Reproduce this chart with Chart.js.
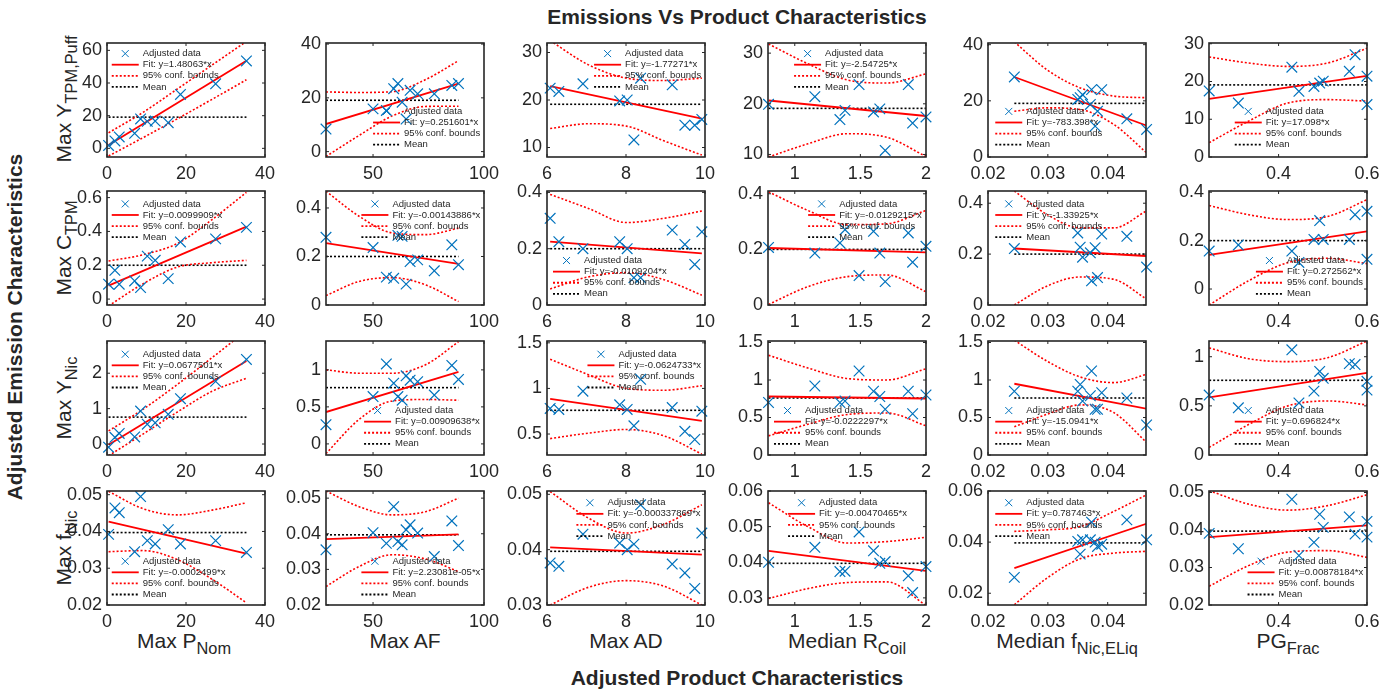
<!DOCTYPE html>
<html>
<head>
<meta charset="utf-8">
<title>Emissions Vs Product Characteristics</title>
<script src="https://cdn.jsdelivr.net/npm/chart.js@4.4.0/dist/chart.umd.min.js"></script>
<style>
    body {
        margin: 0;
        width: 1391px;
        height: 693px;
        position: relative;
        overflow: hidden;
        background: #fff;
        font-family: "Liberation Sans", Arial, sans-serif;
        color: #262626;
    }
    canvas { position: absolute; }
    .t {
        position: absolute;
        white-space: nowrap;
        transform: translate(-50%, -50%);
    }
    .rot { transform: translate(-50%, -50%) rotate(-90deg); }
    .bold { font-weight: bold; font-size: 21px; color: #262626; }
    .axl { font-size: 21px; }
    .axl span { font-size: 0.78em; position: relative; top: 0.38em; }
</style>
</head>
<body>
<div class="t bold" style="left:737px; top:17px">Emissions Vs Product Characteristics</div>
<div class="t bold" style="left:737px; top:678px">Adjusted Product Characteristics</div>
<div class="t bold rot" style="left:15px; top:327px">Adjusted Emission Characteristics</div>

<div class="t axl rot" style="left:64px; top:99px">Max Y<span>TPM,Puff</span></div>
<div class="t axl rot" style="left:64px; top:248px">Max C<span>TPM</span></div>
<div class="t axl rot" style="left:64px; top:398px">Max Y<span>Nic</span></div>
<div class="t axl rot" style="left:64px; top:548px">Max f<span>Nic</span></div>

<div class="t axl" style="left:184px; top:641px">Max P<span>Nom</span></div>
<div class="t axl" style="left:405px; top:641px">Max AF</div>
<div class="t axl" style="left:626px; top:641px">Max AD</div>
<div class="t axl" style="left:847px; top:641px">Median R<span>Coil</span></div>
<div class="t axl" style="left:1067px; top:641px">Median f<span>Nic,ELiq</span></div>
<div class="t axl" style="left:1288px; top:641px">PG<span>Frac</span></div>

<script>
const BLUE = '#0072BD';
const RED = '#FF0000';
const INK = '#262626';

// adjusted product characteristics (x of every panel in a column)
const xPNom = [0.4, 2.0, 3.1, 7.0, 8.5, 10.2, 12.2, 15.5, 18.6, 27.5, 35.3];
const xAF = [28.8, 50, 56, 59.3, 61.2, 63.1, 64.9, 66.7, 70.1, 77.6, 85.5, 88.5];
const xAD = [6.08, 6.3, 6.91, 7.84, 8.03, 8.2, 8.37, 9.17, 9.49, 9.74, 9.92];
const xRCoil = [0.8, 1.153, 1.344, 1.383, 1.49, 1.6, 1.648, 1.689, 1.865, 1.898, 2.0];
const xFNicELiq = [0.0244, 0.035, 0.0354, 0.0358, 0.0371, 0.0373, 0.0379, 0.0383, 0.039, 0.0432, 0.0465];
const xPGFrac = [0.243, 0.309, 0.43, 0.446, 0.48, 0.493, 0.501, 0.56, 0.573, 0.6, 0.6];

// x positions where the confidence bounds are sampled
const bxPNom = [0.4, 9.1, 17.9, 26.6, 35.3];
const bxAF = [28.8, 43.7, 58.7, 73.7, 88.5];
const bxAD = [6.08, 7.05, 8.01, 8.96, 9.92];
const bxRCoil = [0.8, 1.1, 1.4, 1.7, 2.0];
const bxFNicELiq = [0.0244, 0.0299, 0.0354, 0.041, 0.0465];
const bxPGFrac = [0.243, 0.332, 0.421, 0.511, 0.6];

// adjusted emission characteristics, one list per column
const adjTpmPuff = [
    [1.8, 4.5, 7, 9.2, 18, 16.5, 16.7, 15.7, 33, 39.5, 53.5],
    [8.4, 15.9, 15.3, 23.4, 25.3, 18.4, 12.1, 22.8, 21.5, 21.5, 24.6, 25.3],
    [22.5, 21.8, 23.4, 19.8, 20, 11.6, 24.6, 23.2, 14.7, 14.7, 15.9],
    [19.9, 21.4, 16.9, 18.7, 23.8, 18.4, 19, 10.8, 23.8, 16.2, 17.4],
    [28.5, 20.5, 21.1, 22.2, 18.7, 24, 11, 16.3, 24, 13.6, 9.8],
    [17.5, 14.3, 23.8, 17.4, 18.7, 19.6, 20.1, 22.7, 27.1, 21.4, 13.9]
];
const adjCTpm = [
    [0.088, 0.17, 0.088, 0.107, 0.068, 0.254, 0.229, 0.121, 0.338, 0.356, 0.424],
    [0.279, 0.237, 0.115, 0.11, 0.287, 0.283, 0.086, 0.179, 0.186, 0.141, 0.248, 0.166],
    [0.308, 0.225, 0.2, 0.225, 0.2, 0.097, 0.097, 0.266, 0.215, 0.144, 0.26],
    [0.207, 0.187, 0.223, 0.271, 0.106, 0.265, 0.187, 0.084, 0.259, 0.154, 0.211],
    [0.222, 0.283, 0.227, 0.188, 0.205, 0.095, 0.225, 0.108, 0.279, 0.27, 0.149],
    [0.157, 0.182, 0.157, 0.11, 0.205, 0.283, 0.205, 0.205, 0.307, 0.321, 0.123]
];
const adjYNic = [
    [-0.09, 0.19, 0.3, 0.2, 0.93, 0.56, 0.6, 0.84, 1.28, 1.77, 2.39],
    [0.26, 0.64, 1.08, 0.82, 0.64, 0.59, 0.92, 0.86, 0.84, 0.66, 1.06, 0.87],
    [0.78, 0.77, 0.97, 0.82, 0.77, 0.59, 1.1, 0.79, 0.53, 0.44, 0.75],
    [0.7, 0.92, 0.7, 0.72, 1.12, 0.85, 0.78, 0.61, 0.85, 0.55, 0.8],
    [0.85, 0.85, 0.94, 0.72, 0.79, 1.12, 0.61, 0.61, 0.83, 0.76, 0.4],
    [0.61, 0.48, 1.07, 0.53, 0.65, 0.85, 0.78, 0.93, 0.92, 0.75, 0.66]
];
const adjFNic = [
    [0.0392, 0.0464, 0.0451, 0.0345, 0.0495, 0.0375, 0.0366, 0.0405, 0.0366, 0.0375, 0.0343],
    [0.0355, 0.0403, 0.0373, 0.0476, 0.0378, 0.0369, 0.0411, 0.0425, 0.0402, 0.0336, 0.0436, 0.0367],
    [0.0376, 0.037, 0.0428, 0.0412, 0.04, 0.041, 0.0481, 0.0374, 0.0358, 0.033, 0.043],
    [0.04, 0.0442, 0.0374, 0.0375, 0.0485, 0.0432, 0.0397, 0.0402, 0.0362, 0.0315, 0.0388],
    [0.0262, 0.0403, 0.0353, 0.0409, 0.0409, 0.0478, 0.04, 0.0383, 0.0392, 0.0487, 0.0409],
    [0.0391, 0.035, 0.0482, 0.0332, 0.0367, 0.0442, 0.0407, 0.0435, 0.0389, 0.0423, 0.0381]
];

// fitted slopes and the fit value at the smallest x
const slopeTpmPuff = [1.48063, 0.251601, -1.77271, -2.54725, -783.398, 17.098];
const slopeCTpm = [0.0099909, -0.00143886, -0.0109204, -0.0129215, -1.33925, 0.272562];
const slopeYNic = [0.0677501, 0.00909638, -0.0624733, -0.0222297, -15.0941, 0.696824];
const slopeFNic = [-0.0002499, 2.23081e-05, -0.000337869, -0.00470465, 0.787463, 0.00878184];

const fitStartTpmPuff = [2.0, 10.25, 22.9, 20.65, 28.5, 15.4];
const fitStartCTpm = [0.08, 0.255, 0.225, 0.205, 0.222, 0.141];
const fitStartYNic = [-0.02, 0.43, 0.885, 0.78, 0.95, 0.587];
const fitStartFNic = [0.0427, 0.0385, 0.0404, 0.0432, 0.0298, 0.0381];

const meanY = [19.1, 0.2, 0.76, 0.0397];

// 95% confidence bounds at the bx* positions
const upTpmPuff = [
    [9.5, 22, 36.5, 51, 65.5], [22.2, 22.0, 22.3, 26.8, 33.8], [32.5, 27.4, 24.6, 24.1, 24.6],
    [31.8, 27.9, 24.7, 24.1, 25.9], [41, 31, 24.6, 21.7, 21.1], [26.5, 24.9, 24, 24.9, 28.8]
];
const loTpmPuff = [
    [-4.7, 6.5, 18.2, 30, 42], [-1.8, 6, 13.3, 16.8, 16.9], [14, 15, 14.5, 11.4, 8.4],
    [9.5, 12.1, 14.1, 13.4, 9.6], [16.3, 17.5, 16.9, 11.6, 1.5], [3.8, 9.5, 14.3, 15.2, 14.8]
];
const upCTpm = [
    [0.225, 0.262, 0.33, 0.47, 0.631], [0.469, 0.366, 0.297, 0.29, 0.317], [0.393, 0.343, 0.293, 0.308, 0.334],
    [0.407, 0.34, 0.289, 0.292, 0.34], [0.448, 0.355, 0.303, 0.303, 0.37], [0.345, 0.307, 0.287, 0.3, 0.369]
];
const loCTpm = [
    [-0.04, 0.09, 0.19, 0.215, 0.229], [0.039, 0.097, 0.113, 0.083, 0.014], [0.057, 0.1, 0.115, 0.09, 0.035],
    [0.002, 0.066, 0.102, 0.108, 0.048], [0.0, 0.075, 0.11, 0.101, 0.023], [-0.066, 0.034, 0.109, 0.127, 0.105]
];
const upYNic = [
    [0.37, 0.98, 1.69, 2.44, 3.2], [1.0, 0.955, 0.955, 1.07, 1.38], [1.32, 1.15, 1.0, 0.98, 1.03],
    [1.33, 1.16, 1.02, 1.0, 1.15], [1.53, 1.25, 1.04, 0.965, 1.075], [1.09, 0.98, 0.95, 0.99, 1.16]
];
const loYNic = [
    [-0.33, 0.28, 0.91, 1.49, 1.86], [-0.13, 0.33, 0.58, 0.6, 0.59], [0.45, 0.51, 0.55, 0.48, 0.28],
    [0.255, 0.41, 0.54, 0.56, 0.39], [0.376, 0.544, 0.668, 0.566, 0.168], [0.077, 0.31, 0.5, 0.55, 0.51]
];
const upFNic = [
    [0.0509, 0.0462, 0.0445, 0.0458, 0.0478], [0.052, 0.0476, 0.0453, 0.0462, 0.05], [0.0505, 0.0457, 0.043, 0.0446, 0.0481],
    [0.0567, 0.05, 0.0454, 0.0458, 0.047], [0.0442, 0.0448, 0.0461, 0.052, 0.0585], [0.0505, 0.0469, 0.0453, 0.0465, 0.0494]
];
const loFNic = [
    [0.0345, 0.0348, 0.0323, 0.027, 0.0206], [0.0252, 0.0308, 0.0341, 0.0329, 0.0294], [0.03, 0.0332, 0.0344, 0.0334, 0.03],
    [0.0298, 0.0326, 0.0343, 0.0345, 0.0279], [0.0155, 0.026, 0.0335, 0.0357, 0.0364], [0.025, 0.0305, 0.0341, 0.0345, 0.0327]
];

// axis limits and ticks
const xLimits = [[0, 40], [28.8, 100], [6, 10], [0.796, 2], [0.02, 0.0464], [0.2426, 0.6]];
const xTicks = [[0, 20, 40], [50, 100], [6, 8, 10], [1, 1.5, 2], [0.02, 0.03, 0.04], [0.4, 0.6]];

const yLimits = [
    [[-5.3, 64.5], [-2, 40.4], [8, 32], [9.5, 32], [0, 40.6], [0, 30.2]],
    [[-0.035, 0.639], [0, 0.47], [0, 0.405], [0, 0.41], [0, 0.448], [-0.066, 0.405]],
    [[-0.31, 2.91], [-0.15, 1.39], [0.27, 1.52], [0, 1.52], [0, 1.52], [0, 1.16]],
    [[0.02, 0.051], [0.02, 0.052], [0.03, 0.0506], [0.028, 0.06], [0.0154, 0.06], [0.02, 0.0504]]
];
const yTicks = [
    [[0, 20, 40, 60], [0, 20, 40], [10, 20, 30], [10, 20, 30], [0, 20, 40], [0, 10, 20, 30]],
    [[0, 0.2, 0.4, 0.6], [0, 0.2, 0.4], [0, 0.2, 0.4], [0, 0.2, 0.4], [0, 0.2, 0.4], [0, 0.2, 0.4]],
    [[0, 1, 2], [0, 0.5, 1], [0.5, 1, 1.5], [0, 0.5, 1, 1.5], [0, 0.5, 1, 1.5], [0, 0.5, 1]],
    [[0.02, 0.03, 0.04, 0.05], [0.02, 0.03, 0.04, 0.05], [0.03, 0.04, 0.05], [0.03, 0.04, 0.05, 0.06], [0.02, 0.04, 0.06], [0.02, 0.03, 0.04, 0.05]]
];

// legend anchor inside each plot (fraction of width, fraction of height)
const legendAt = [
    [[0.03, 0.093], [0.298, 0.6], [0.298, 0.093], [0.165, 0.093], [0.046, 0.6], [0.163, 0.6]],
    [[0.03, 0.113], [0.224, 0.113], [0.038, 0.61], [0.254, 0.113], [0.046, 0.113], [0.297, 0.61]],
    [[0.03, 0.116], [0.241, 0.61], [0.256, 0.116], [0.038, 0.61], [0.046, 0.61], [0.163, 0.61]],
    [[0.03, 0.616], [0.224, 0.616], [0.186, 0.103], [0.127, 0.103], [0.046, 0.103], [0.244, 0.616]]
];

const productX = [xPNom, xAF, xAD, xRCoil, xFNicELiq, xPGFrac];
const boundX = [bxPNom, bxAF, bxAD, bxRCoil, bxFNicELiq, bxPGFrac];
const rows = [
    { ys: adjTpmPuff, slope: slopeTpmPuff, start: fitStartTpmPuff, up: upTpmPuff, lo: loTpmPuff },
    { ys: adjCTpm, slope: slopeCTpm, start: fitStartCTpm, up: upCTpm, lo: loCTpm },
    { ys: adjYNic, slope: slopeYNic, start: fitStartYNic, up: upYNic, lo: loYNic },
    { ys: adjFNic, slope: slopeFNic, start: fitStartFNic, up: upFNic, lo: loFNic }
];

// page layout of the plot boxes
const plotLeft = [107, 326, 547, 768, 988, 1209];
const plotTop = [43, 191, 341, 491];
const PW = 158, PH = 114;
const YW = 58, XH = 30, PAD_T = 10, PAD_R = 24;

const TICK_FONT = { family: '"Liberation Sans", Arial, sans-serif', size: 18 };

function fmtSlope(v) {
    if (Math.abs(v) < 1e-4)
        return v.toExponential(5).replace(/e([+-])(\d)$/, 'e$10$2');
    return String(Number(v.toPrecision(6)));
}

function fmtTick(v) {
    return String(Number(v.toPrecision(4)));
}

function line(ctx, x1, y1, x2, y2) {
    ctx.beginPath();
    ctx.moveTo(x1, y1);
    ctx.lineTo(x2, y2);
    ctx.stroke();
}

// box, inward ticks and the in-plot legend
const matlabAxes = {
    id: 'matlabAxes',
    afterDatasetsDraw(chart, args, opts) {
        const { ctx, chartArea: a, scales } = chart;
        const w = a.right - a.left, h = a.bottom - a.top;
        ctx.save();

        const L = a.left + opts.fx * w;
        const y0 = a.top + opts.fy * h;
        const gap = 11.1, len = 27;
        ctx.font = '9.5px "Liberation Sans", Arial, sans-serif';
        ctx.textBaseline = 'middle';
        ctx.fillStyle = INK;

        ctx.strokeStyle = BLUE;
        ctx.lineWidth = 1;
        const r = 3.5, cx = L + len / 2;
        ctx.beginPath();
        ctx.moveTo(cx - r, y0 - r); ctx.lineTo(cx + r, y0 + r);
        ctx.moveTo(cx - r, y0 + r); ctx.lineTo(cx + r, y0 - r);
        ctx.stroke();

        ctx.lineWidth = 1.8;
        ctx.strokeStyle = RED;
        line(ctx, L, y0 + gap, L + len, y0 + gap);
        ctx.setLineDash([2, 2]);
        line(ctx, L, y0 + 2 * gap, L + len, y0 + 2 * gap);
        ctx.strokeStyle = '#000';
        line(ctx, L, y0 + 3 * gap, L + len, y0 + 3 * gap);
        ctx.setLineDash([]);

        const tx = L + len + 4;
        ctx.fillText('Adjusted data', tx, y0);
        ctx.fillText('Fit: y=' + opts.fitText + '*x', tx, y0 + gap);
        ctx.fillText('95% conf. bounds', tx, y0 + 2 * gap);
        ctx.fillText('Mean', tx, y0 + 3 * gap);

        ctx.strokeStyle = INK;
        ctx.lineWidth = 1.6;
        ctx.strokeRect(a.left, a.top, w, h);
        ctx.lineWidth = 1;
        const tl = 3;
        scales.x.ticks.forEach(t => {
            const px = scales.x.getPixelForValue(t.value);
            line(ctx, px, a.bottom, px, a.bottom - tl);
            line(ctx, px, a.top, px, a.top + tl);
        });
        scales.y.ticks.forEach(t => {
            const py = scales.y.getPixelForValue(t.value);
            line(ctx, a.left, py, a.left + tl, py);
            line(ctx, a.right, py, a.right - tl, py);
        });
        ctx.restore();
    }
};

function axis(lim, ticks, isX) {
    return {
        type: 'linear',
        min: lim[0],
        max: lim[1],
        afterBuildTicks: s => { s.ticks = ticks.map(v => ({ value: v })); },
        afterFit: s => {
            if (isX) {
                s.height = XH;
                s.paddingLeft = 0;
                s.paddingRight = 0;
            } else {
                s.width = YW;
                s.paddingTop = 0;
                s.paddingBottom = 0;
            }
        },
        grid: { display: false, drawTicks: false },
        border: { display: false },
        ticks: {
            font: TICK_FONT,
            color: INK,
            padding: isX ? 6 : 5,
            autoSkip: false,
            maxRotation: 0,
            callback: v => fmtTick(v)
        }
    };
}

rows.forEach((row, r) => {
    productX.forEach((xs, c) => {
        const ys = row.ys[c];
        const x0 = xs[0], x1 = xs[xs.length - 1];
        const f0 = row.start[c];
        const f1 = f0 + row.slope[c] * (x1 - x0);
        const bx = boundX[c];

        const canvas = document.createElement('canvas');
        canvas.width = YW + PW + PAD_R;
        canvas.height = PAD_T + PH + XH;
        canvas.style.left = (plotLeft[c] - YW) + 'px';
        canvas.style.top = (plotTop[r] - PAD_T) + 'px';
        document.body.appendChild(canvas);

        new Chart(canvas, {
            type: 'scatter',
            data: {
                datasets: [
                    {
                        label: 'Adjusted data',
                        data: xs.map((x, i) => ({ x, y: ys[i] })),
                        pointStyle: 'crossRot',
                        pointRadius: 7.5,
                        borderColor: BLUE,
                        backgroundColor: BLUE,
                        borderWidth: 1.2,
                        clip: false
                    },
                    {
                        label: 'Fit',
                        type: 'line',
                        data: [{ x: x0, y: f0 }, { x: x1, y: f1 }],
                        borderColor: RED,
                        borderWidth: 1.8,
                        pointRadius: 0
                    },
                    {
                        label: 'Upper bound',
                        type: 'line',
                        data: bx.map((x, i) => ({ x, y: row.up[c][i] })),
                        borderColor: RED,
                        borderWidth: 1.6,
                        borderDash: [2, 2],
                        cubicInterpolationMode: 'monotone',
                        pointRadius: 0
                    },
                    {
                        label: 'Lower bound',
                        type: 'line',
                        data: bx.map((x, i) => ({ x, y: row.lo[c][i] })),
                        borderColor: RED,
                        borderWidth: 1.6,
                        borderDash: [2, 2],
                        cubicInterpolationMode: 'monotone',
                        pointRadius: 0
                    },
                    {
                        label: 'Mean',
                        type: 'line',
                        data: [{ x: x0, y: meanY[r] }, { x: x1, y: meanY[r] }],
                        borderColor: '#000',
                        borderWidth: 1.6,
                        borderDash: [2, 2],
                        pointRadius: 0
                    }
                ]
            },
            options: {
                responsive: false,
                animation: false,
                devicePixelRatio: 1,
                layout: { padding: { top: PAD_T, right: PAD_R, left: 0, bottom: 0 } },
                plugins: {
                    legend: { display: false },
                    tooltip: { enabled: false },
                    matlabAxes: { fx: legendAt[r][c][0], fy: legendAt[r][c][1], fitText: fmtSlope(row.slope[c]) }
                },
                scales: {
                    x: axis(xLimits[c], xTicks[c], true),
                    y: axis(yLimits[r][c], yTicks[r][c], false)
                }
            },
            plugins: [matlabAxes]
        });
    });
});
</script>
</body>
</html>
